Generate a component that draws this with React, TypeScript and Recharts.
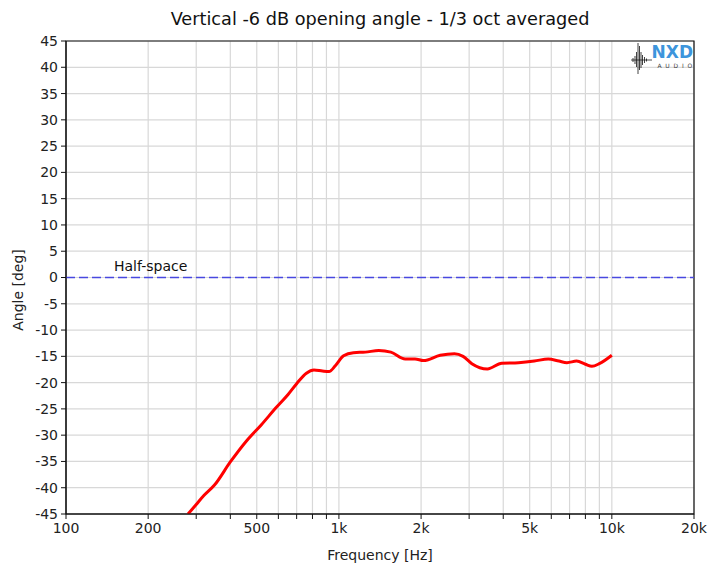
import {
  CartesianGrid,
  Line,
  LineChart,
  ReferenceArea,
  ReferenceLine,
  XAxis,
  YAxis,
} from "recharts";

// -6 dB vertical opening angle, 1/3 octave averaged
const freqs = [
  280, 300, 320, 350, 400, 460, 520, 590, 650, 700, 760, 810, 870, 920, 970,
  1040, 1130, 1250, 1400, 1550, 1750, 1900, 2040, 2350, 2650, 2850, 3070, 3500,
  3950, 4550, 5200, 5850, 6400, 6850, 7430, 8000, 8450, 9000, 10000,
];
const angles = [
  -45, -43.2, -41.5, -39.5, -35.1, -31, -28, -24.7, -22.3, -20.2, -18.2, -17.6,
  -17.8, -17.9, -16.8, -14.9, -14.3, -14.2, -13.9, -14.2, -15.5, -15.5, -15.8,
  -14.8, -14.5, -15, -16.4, -17.4, -16.3, -16.2, -15.9, -15.5, -15.9, -16.2,
  -15.9, -16.5, -16.9, -16.4, -14.8,
];

const xTicks = [
  100, 200, 300, 400, 500, 600, 700, 800, 900, 1000, 2000, 3000, 4000, 5000,
  6000, 7000, 8000, 9000, 10000, 20000,
];
const xLabels: Record<number, string> = {
  100: "100",
  200: "200",
  500: "500",
  1000: "1k",
  2000: "2k",
  5000: "5k",
  10000: "10k",
  20000: "20k",
};
const yTicks = [-45, -40, -35, -30, -25, -20, -15, -10, -5, 0, 5, 10, 15, 20, 25, 30, 35, 40, 45];

const data = freqs.map((f, i) => ({ f, angle: angles[i] }));

const font = "'DejaVu Sans', Verdana, sans-serif";
const tickStyle = { fontSize: 14, fill: "#222", fontFamily: font };

function Logo() {
  // little waveform glyph next to the brand name
  const spikes = [
    [633, 58, 62], [635, 56, 64], [636.5, 52, 67], [638, 43, 74], [639.5, 46, 70],
    [641, 52, 68], [642.5, 55, 65], [644.5, 57, 63], [646.5, 58.5, 61.5],
  ];
  return (
    <svg
      width={712}
      height={565}
      style={{ position: "absolute", left: 0, top: 0, pointerEvents: "none" }}
    >
      <line x1={631} y1={60} x2={652} y2={60} stroke="#222" strokeWidth={0.8} />
      {spikes.map(([x, y1, y2]) => (
        <line key={x} x1={x} y1={y1} x2={x} y2={y2} stroke="#111" strokeWidth={0.8} />
      ))}
      <text
        x={693}
        y={58}
        textAnchor="end"
        fontFamily={font}
        fontWeight="bold"
        fontSize={17}
        fill="#3d95dc"
      >
        NXD
      </text>
      <text
        x={696}
        y={68}
        textAnchor="end"
        fontFamily={font}
        fontSize={6}
        letterSpacing={3.8}
        fill="#444"
      >
        AUDIO
      </text>
    </svg>
  );
}

export default function App() {
  return (
    <div
      style={{
        position: "absolute",
        left: 0,
        top: 0,
        width: 712,
        height: 565,
        background: "#fff",
      }}
    >
      {/* title is centred over the plot area */}
      <div
        style={{
          position: "absolute",
          top: 8,
          left: 66,
          width: 628,
          textAlign: "center",
          fontFamily: font,
          fontSize: 17.7,
          lineHeight: "22px",
          color: "#111",
          whiteSpace: "nowrap",
        }}
      >
        Vertical -6 dB opening angle - 1/3 oct averaged
      </div>
      <LineChart
        width={712}
        height={565}
        data={data}
        margin={{ top: 41, right: 18, bottom: 0, left: 0 }}
      >
        <CartesianGrid stroke="#d8d8d8" strokeWidth={1.2} />
        <XAxis
          dataKey="f"
          type="number"
          scale="log"
          domain={[100, 20000]}
          ticks={xTicks}
          interval={0}
          tickFormatter={(v) => xLabels[v] ?? ""}
          tick={tickStyle}
          tickSize={5}
          tickMargin={4}
          stroke="#111"
          height={51}
          allowDataOverflow
          label={{
            value: "Frequency [Hz]",
            position: "insideBottom",
            offset: 5,
            style: { fontSize: 14, fill: "#222", fontFamily: font },
          }}
        />
        <YAxis
          type="number"
          domain={[-45, 45]}
          ticks={yTicks}
          interval={0}
          tick={tickStyle}
          tickSize={5}
          tickMargin={3}
          stroke="#111"
          width={66}
          allowDataOverflow
          label={() => (
            <text
              x={23}
              y={290}
              transform="rotate(-90 23 290)"
              textAnchor="middle"
              fontFamily={font}
              fontSize={14}
              fill="#222"
            >
              Angle [deg]
            </text>
          )}
        />
        <ReferenceArea
          x1={100}
          x2={20000}
          y1={-45}
          y2={45}
          fill="none"
          stroke="#111"
          strokeWidth={1.2}
          ifOverflow="visible"
        />
        <ReferenceLine
          y={0}
          stroke="#4848e0"
          strokeWidth={1.3}
          strokeDasharray="9 4"
          label={({ viewBox }: any) => (
            <text
              x={viewBox.x + 48}
              y={viewBox.y - 7}
              fontFamily={font}
              fontSize={14}
              fill="#111"
            >
              Half-space
            </text>
          )}
        />
        <Line
          dataKey="angle"
          type="monotone"
          stroke="#ff0000"
          strokeWidth={3}
          dot={false}
          isAnimationActive={false}
        />
      </LineChart>
      <Logo />
    </div>
  );
}
